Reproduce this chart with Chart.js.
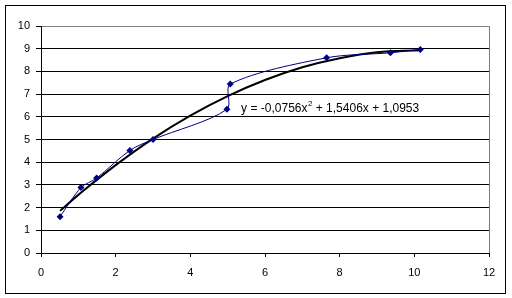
<!DOCTYPE html>
<html>
<head>
<meta charset="utf-8">
<script src="https://cdn.jsdelivr.net/npm/chart.js@4/dist/chart.umd.min.js"></script>
<style>
  body { margin: 0; background: #fff; }
  canvas { display: block; }
</style>
</head>
<body>
<canvas id="chart" width="512" height="298"></canvas>
<script>
// measured points
const xValues = [0.51, 1.07, 1.49, 2.38, 3.0, 4.98, 5.07, 7.65, 9.36, 10.16]
const yValues = [1.6, 2.88, 3.3, 4.52, 5.0, 6.33, 7.44, 8.6, 8.82, 8.97]

// polynomial trendline
const trendX = [0.51, 1, 2, 3, 4, 5, 6, 7, 8, 9, 10.16]
const trendY = [1.86, 2.56, 3.87, 5.04, 6.05, 6.91, 7.62, 8.18, 8.58, 8.84, 8.93]

const xTicks = [0, 2, 4, 6, 8, 10, 12]
const yTicks = [0, 1, 2, 3, 4, 5, 6, 7, 8, 9, 10]

const eqParts = ['y = -0,0756x', '2', ' + 1,5406x + 1,0953']
const eqAnchor = { x: 5.36, y: 6.21 }

const FONT = 'Liberation Sans, Arial, sans-serif'

const toPoints = (xs, ys) => xs.map((x, i) => ({ x: x, y: ys[i] }))

const frame = {
  id: 'frame',
  beforeDraw(chart) {
    const ctx = chart.ctx
    ctx.save()
    ctx.fillStyle = '#fff'
    ctx.fillRect(0, 0, chart.width, chart.height)
    ctx.strokeStyle = '#000'
    ctx.lineWidth = 1
    ctx.strokeRect(5.5, 5.5, 500, 288)
    ctx.restore()
  }
}

const equation = {
  id: 'equation',
  afterDraw(chart) {
    const ctx = chart.ctx
    let x = chart.scales.x.getPixelForValue(eqAnchor.x)
    const y = chart.scales.y.getPixelForValue(eqAnchor.y)
    ctx.save()
    ctx.fillStyle = '#000'
    ctx.textBaseline = 'alphabetic'
    ctx.font = '12px ' + FONT
    ctx.fillText(eqParts[0], x, y)
    x += ctx.measureText(eqParts[0]).width
    ctx.font = '8px ' + FONT
    ctx.fillText(eqParts[1], x + 0.5, y - 6)
    x += ctx.measureText(eqParts[1]).width + 0.5
    ctx.font = '12px ' + FONT
    ctx.fillText(eqParts[2], x, y)
    ctx.restore()
  }
}

new Chart(document.getElementById('chart'), {
  type: 'scatter',
  data: {
    datasets: [{
        data: toPoints(xValues, yValues),
        showLine: true,
        borderColor: '#000080',
        backgroundColor: '#000080',
        borderWidth: 1,
        tension: 0.3,
        pointStyle: 'rectRot',
        pointRadius: 3.5,
        pointBorderWidth: 0
      }, {
        data: toPoints(trendX, trendY),
        showLine: true,
        borderColor: '#000',
        borderWidth: 2,
        tension: 0.4,
        pointRadius: 0
      }
    ]
  },
  options: {
    responsive: false,
    devicePixelRatio: 1,
    animation: false,
    events: [],
    layout: {
      padding: { left: 0, top: 26, right: 23, bottom: 0 }
    },
    plugins: {
      legend: { display: false },
      title: { display: false },
      tooltip: { enabled: false }
    },
    scales: {
      x: {
        type: 'linear',
        min: xTicks[0],
        max: xTicks[xTicks.length - 1],
        afterFit: (s) => { s.height = 45 },
        afterBuildTicks: (s) => { s.ticks = xTicks.map(v => ({ value: v })) },
        border: { display: true, color: '#000', width: 1 },
        grid: {
          color: (c) => c.tick && c.tick.value === 12 ? '#808080' : 'rgba(0,0,0,0)',
          tickColor: '#000',
          tickLength: 4,
          drawTicks: true
        },
        ticks: {
          color: '#000',
          font: { family: FONT, size: 11 },
          padding: 9,
          maxRotation: 0
        }
      },
      y: {
        type: 'linear',
        min: yTicks[0],
        max: yTicks[yTicks.length - 1],
        afterFit: (s) => { s.width = 41 },
        afterBuildTicks: (s) => { s.ticks = yTicks.map(v => ({ value: v })) },
        border: { display: true, color: '#000', width: 1 },
        grid: {
          color: (c) => c.tick && c.tick.value === 10 ? '#808080' : '#000',
          tickColor: '#000',
          tickLength: 5,
          drawTicks: true
        },
        ticks: {
          color: '#000',
          font: { family: FONT, size: 11 },
          padding: 6
        }
      }
    }
  },
  plugins: [frame, equation]
});
</script>
</body>
</html>
